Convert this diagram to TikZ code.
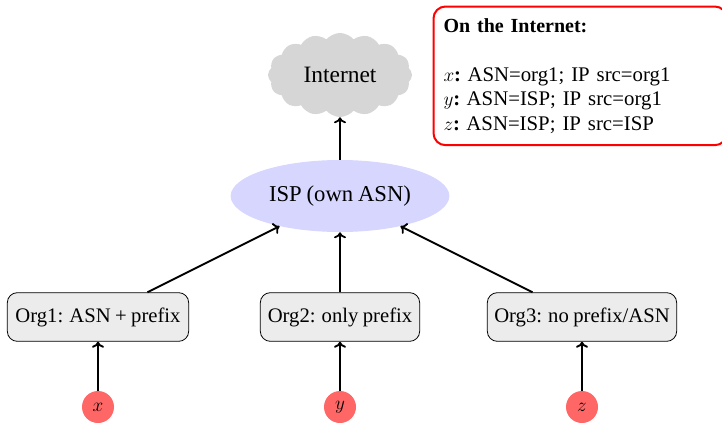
\documentclass[tikz,border=0pt]{standalone}
\usepackage{fontspec}
\setmainfont[WordSpace=0.85]{Liberation Serif}
\usetikzlibrary{arrows.meta, shapes.geometric, shapes.symbols}
\definecolor{ispblue}{RGB}{214,214,255}
\definecolor{orggray}{RGB}{236,236,236}
\definecolor{hostred}{RGB}{255,102,102}
\definecolor{cloudgray}{RGB}{214,214,214}
\newcommand{\hostkey}[1]{$#1$\textbf{:}\kern-3pt{} }
\tikzset{
  orgbox/.style={draw=black, line width=0.6pt, fill=orggray, rounded corners=7.5pt, minimum height=36.5pt, inner sep=0pt, font=\fontsize{15.5pt}{18pt}\selectfont},
  host/.style={circle, fill=hostred, minimum size=24pt, inner sep=0pt, font=\fontsize{14.4pt}{18pt}\selectfont},
  link/.style={draw=black, line width=1.4pt, -{Computer Modern Rightarrow[length=4.5pt,width=9pt]}}
}
\begin{document}
\begin{tikzpicture}[x=0.75pt, y=-0.75pt, font=\fontsize{15.6pt}{18.4pt}\selectfont]
\useasboundingbox (0,0) rectangle (722,422);

% Upstream
\node[cloud, cloud puffs=16, cloud puff arc=100, aspect=1.8, fill=cloudgray, minimum width=108pt, minimum height=63pt, inner sep=0pt, font=\fontsize{17.6pt}{20pt}\selectfont] (internet) at (340,75) {Internet};
\node[ellipse, fill=ispblue, minimum width=164pt, minimum height=54pt, inner sep=0pt, font=\fontsize{17pt}{20pt}\selectfont] (isp) at (340,196) {ISP (own ASN)};

% Organisations
\node[orgbox, minimum width=136pt] (org1) at (98,317) {Org1: ASN + prefix};
\node[orgbox, minimum width=119.5pt] (org2) at (340,317) {Org2: only prefix};
\node[orgbox, minimum width=142pt] (org3) at (582,317) {Org3: no prefix/ASN};

% Hosts
\node[host] (x) at (98,407) {$x$};
\node[host] (y) at (340,407) {$y$};
\node[host] (z) at (582,407) {$z$};

% Links
\draw[link] (isp) -- (internet);
\draw[link] (org1) -- (isp);
\draw[link] (org2) -- (isp);
\draw[link] (org3) -- (isp);
\draw[link] (x) -- (org1);
\draw[link] (y) -- (org2);
\draw[link] (z) -- (org3);

% Summary box
\node[draw=red, line width=1.5pt, rounded corners=9pt, fill=white, anchor=north west, text width=205pt, minimum height=104pt, inner xsep=7.5pt, inner ysep=4pt, align=left] (summary) at (432.5,5.5) {{\fontsize{15pt}{18.4pt}\selectfont\textbf{On the Internet:}}\\[18.4pt]
\hostkey{x}ASN=org1; IP src=org1\\
\hostkey{y}ASN=ISP; IP src=org1\\
\hostkey{z}ASN=ISP; IP src=ISP};
\end{tikzpicture}
\end{document}
